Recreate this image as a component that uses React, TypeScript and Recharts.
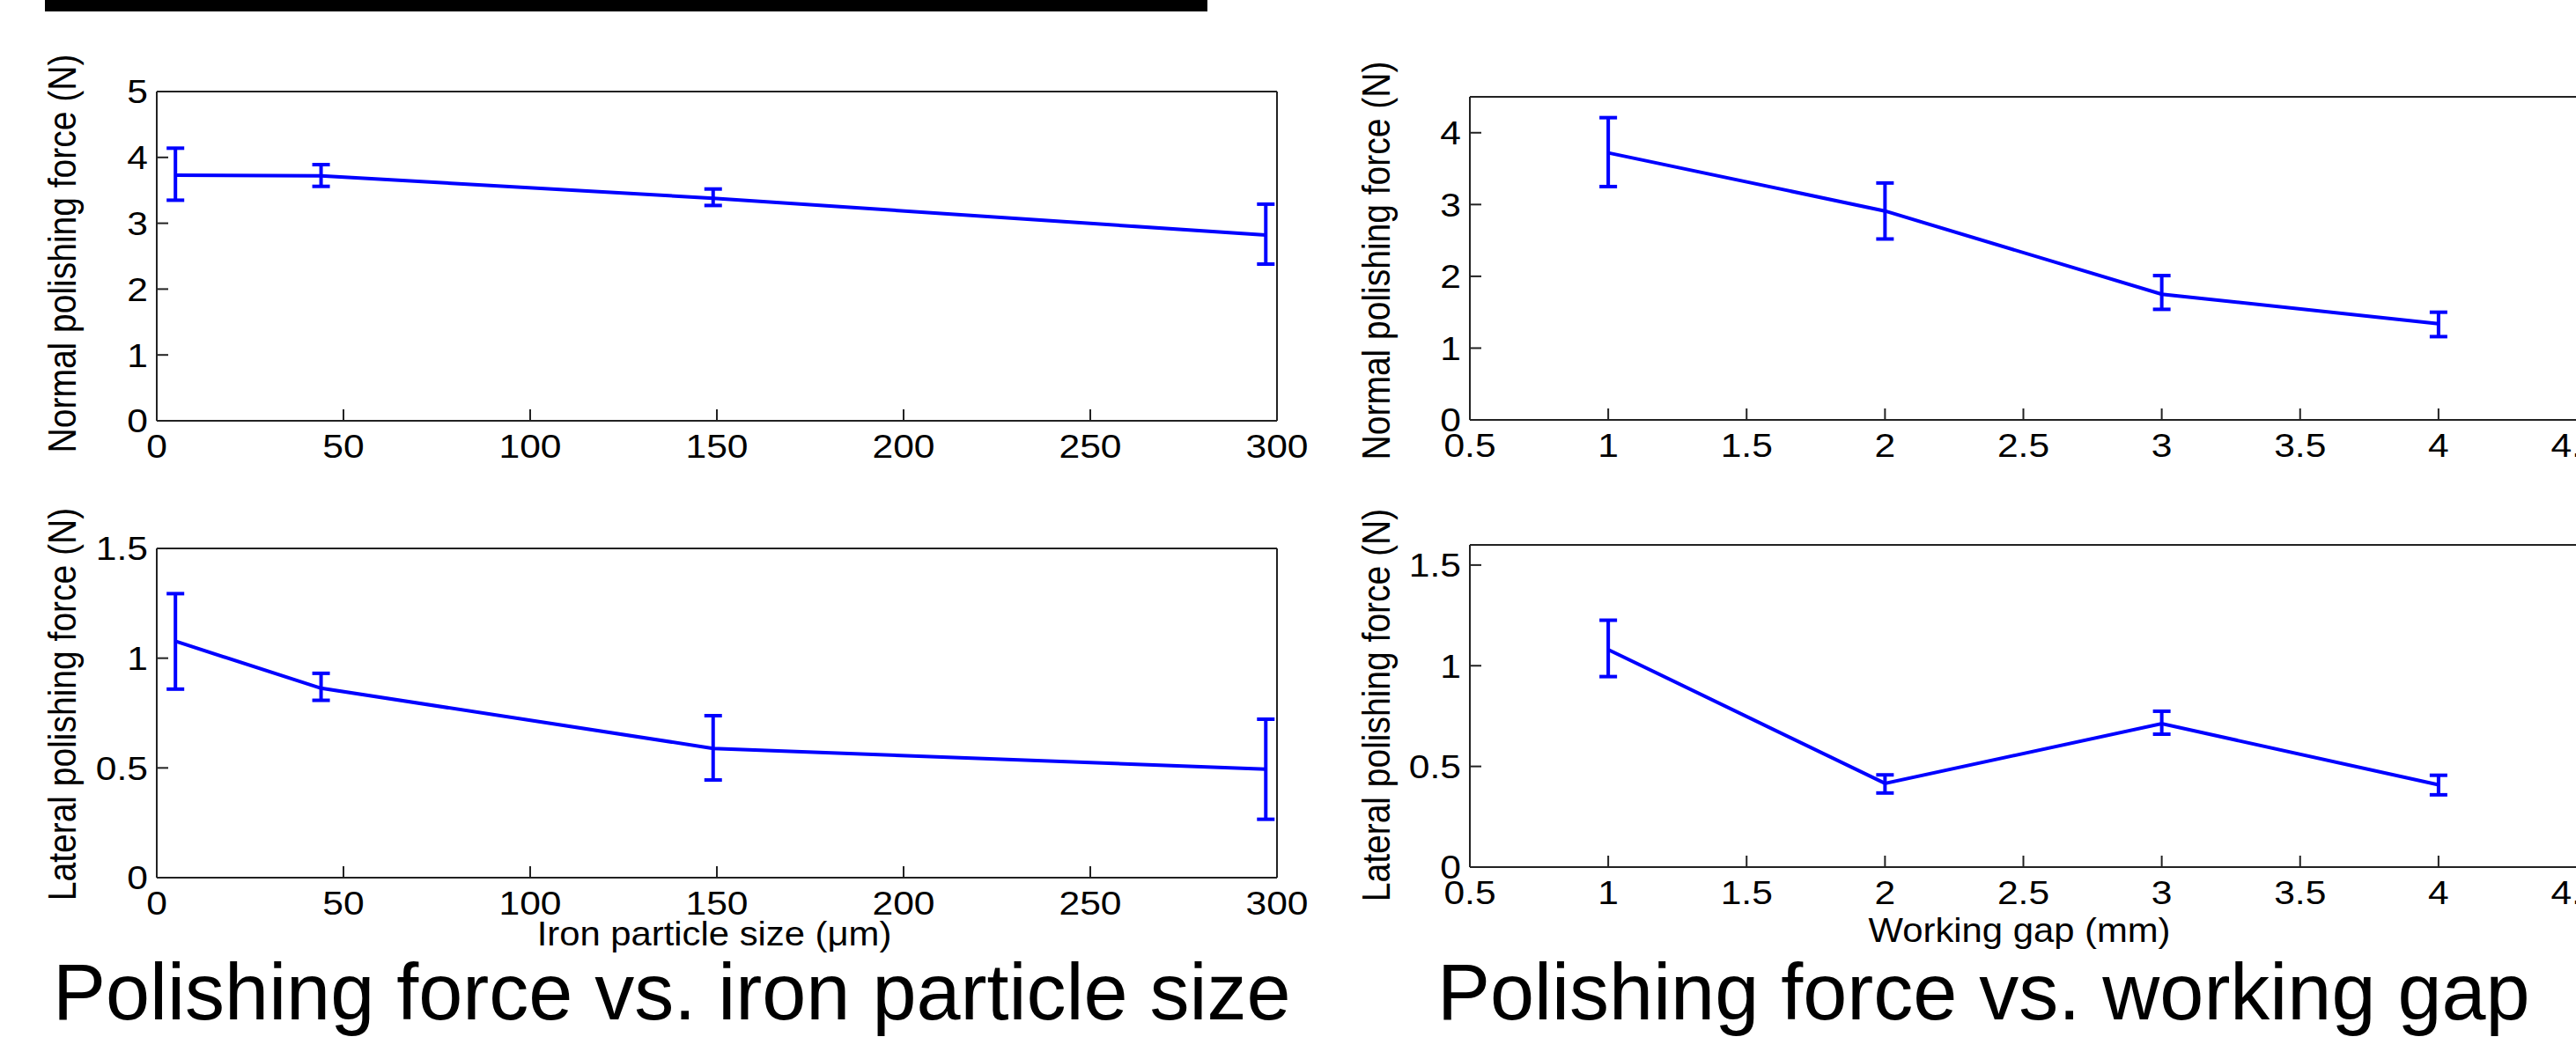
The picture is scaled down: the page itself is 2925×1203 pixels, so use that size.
import React from "react";
import { LineChart, Line, XAxis, YAxis, ErrorBar } from "recharts";

// ── values ──────────────────────────────────────────────────────
const particleSizes = [5, 44, 149, 297]; // μm
const normalBySize = [3.73, 3.72, 3.38, 2.82];
const normalBySizeLow = [3.35, 3.56, 3.27, 2.38];
const normalBySizeHigh = [4.14, 3.89, 3.52, 3.29];
const lateralBySize = [1.077, 0.863, 0.589, 0.494];
const lateralBySizeLow = [0.859, 0.808, 0.445, 0.266];
const lateralBySizeHigh = [1.294, 0.931, 0.738, 0.722];

const workingGaps = [1, 2, 3, 4]; // mm
const normalByGap = [3.72, 2.91, 1.75, 1.34];
const normalByGapLow = [3.25, 2.52, 1.54, 1.16];
const normalByGapHigh = [4.21, 3.3, 2.01, 1.5];
const lateralByGap = [1.08, 0.416, 0.712, 0.409];
const lateralByGapLow = [0.946, 0.368, 0.66, 0.359];
const lateralByGapHigh = [1.226, 0.458, 0.774, 0.456];

const sizeTicks = [0, 50, 100, 150, 200, 250, 300];
const gapTicks = [0.5, 1, 1.5, 2, 2.5, 3, 3.5, 4, 4.5];
const normalSizeTicks = [0, 1, 2, 3, 4, 5];
const normalGapTicks = [0, 1, 2, 3, 4];
const lateralTicks = [0, 0.5, 1, 1.5];

// ── look ────────────────────────────────────────────────────────
const FONT = '"Liberation Sans", Arial, sans-serif';
const BLUE = "#0000FF";
const AXIS = "#222222";
const STRETCH = 1.15; // the source picture is a bit wider than tall
const TICK_FS = 37;
const LABEL_FS = 38;
const TITLE_FS = 90;

function rows(xs: number[], ys: number[], lo: number[], hi: number[]) {
  return xs.map((x, i) => ({ x, y: ys[i], err: [ys[i] - lo[i], hi[i] - ys[i]] }));
}

function BottomTick({ x, payload, base }: any) {
  return (
    <g transform={`translate(${x},${base + 15 + 0.72 * TICK_FS}) scale(${STRETCH},1)`}>
      <text textAnchor="middle" fontSize={TICK_FS} fontFamily={FONT} fill="#000">
        {String(payload.value)}
      </text>
    </g>
  );
}

function LeftTick({ y, payload, base }: any) {
  return (
    <g transform={`translate(${base - 10},${y + 0.36 * TICK_FS}) scale(${STRETCH},1)`}>
      <text textAnchor="end" fontSize={TICK_FS} fontFamily={FONT} fill="#000">
        {String(payload.value)}
      </text>
    </g>
  );
}

const axisStyle = { stroke: AXIS, strokeWidth: 2 };

interface PanelProps {
  box: [number, number, number, number]; // left, top, width, height of chart
  plot: [number, number, number, number]; // left, top, right, bottom of plot frame
  data: { x: number; y: number; err: number[] }[];
  xDomain: [number, number];
  xTicks: number[];
  yDomain: [number, number];
  yTicks: number[];
}

function Panel({ box, plot, data, xDomain, xTicks, yDomain, yTicks }: PanelProps) {
  const [L, T, W, H] = box;
  const [pl, pt, pr, pb] = plot;
  const A = 10;
  const margin = {
    left: pl - L - A,
    right: L + W - pr - A,
    top: pt - T - A,
    bottom: T + H - pb - A,
  };
  return (
    <div style={{ position: "absolute", left: L, top: T }}>
      <LineChart width={W} height={H} data={data} margin={margin}>
        <XAxis
          xAxisId="b"
          type="number"
          dataKey="x"
          domain={xDomain}
          ticks={xTicks}
          interval={0}
          height={A}
          axisLine={axisStyle}
          tickLine={axisStyle}
          tickSize={-13}
          tickMargin={0}
          tick={(p: any) => <BottomTick {...p} base={pb - T} />}
        />
        <XAxis
          xAxisId="t"
          orientation="top"
          type="number"
          dataKey="x"
          domain={xDomain}
          ticks={xTicks}
          interval={0}
          height={A}
          axisLine={axisStyle}
          tickLine={axisStyle}
          tickSize={-13}
          tick={false}
        />
        <YAxis
          yAxisId="l"
          type="number"
          domain={yDomain}
          ticks={yTicks}
          interval={0}
          width={A}
          axisLine={axisStyle}
          tickLine={axisStyle}
          tickSize={-13}
          tickMargin={0}
          tick={(p: any) => <LeftTick {...p} base={pl - L} />}
        />
        <YAxis
          yAxisId="r"
          orientation="right"
          type="number"
          domain={yDomain}
          ticks={yTicks}
          interval={0}
          width={A}
          axisLine={axisStyle}
          tickLine={axisStyle}
          tickSize={-13}
          tick={false}
        />
        <Line
          xAxisId="b"
          yAxisId="l"
          type="linear"
          dataKey="y"
          stroke={BLUE}
          strokeWidth={4}
          dot={false}
          isAnimationActive={false}
        >
          <ErrorBar dataKey="err" direction="y" width={10} strokeWidth={4} stroke={BLUE} isAnimationActive={false} />
        </Line>
      </LineChart>
    </div>
  );
}

function YLabel({ x, y, text }: { x: number; y: number; text: string }) {
  return (
    <g transform={`translate(${x},${y}) scale(1.15,1) rotate(-90)`}>
      <text textAnchor="middle" fontSize={39} fontFamily={FONT} fill="#000">
        {text}
      </text>
    </g>
  );
}

function HText({ x, y, text, size, anchor = "middle", stretch = 1.1 }: any) {
  return (
    <g transform={`translate(${x},${y}) scale(${stretch},1)`}>
      <text textAnchor={anchor} fontSize={size} fontFamily={FONT} fill="#000">
        {text}
      </text>
    </g>
  );
}

export default function App() {
  return (
    <div
      style={{
        position: "absolute",
        left: 0,
        top: 0,
        width: 2925,
        height: 1203,
        overflow: "hidden",
        background: "#fff",
        fontFamily: FONT,
      }}
    >
      <Panel
        box={[0, 0, 1500, 580]}
        plot={[178, 104, 1450, 478]}
        data={rows(particleSizes, normalBySize, normalBySizeLow, normalBySizeHigh)}
        xDomain={[0, 300]}
        xTicks={sizeTicks}
        yDomain={[0, 5]}
        yTicks={normalSizeTicks}
      />
      <Panel
        box={[0, 580, 1500, 500]}
        plot={[178, 623, 1450, 997]}
        data={rows(particleSizes, lateralBySize, lateralBySizeLow, lateralBySizeHigh)}
        xDomain={[0, 300]}
        xTicks={sizeTicks}
        yDomain={[0, 1.5]}
        yTicks={lateralTicks}
      />
      <Panel
        box={[1500, 0, 1500, 580]}
        plot={[1669, 110, 2926, 477]}
        data={rows(workingGaps, normalByGap, normalByGapLow, normalByGapHigh)}
        xDomain={[0.5, 4.5]}
        xTicks={gapTicks}
        yDomain={[0, 4.5]}
        yTicks={normalGapTicks}
      />
      <Panel
        box={[1500, 580, 1500, 500]}
        plot={[1669, 619, 2926, 985]}
        data={rows(workingGaps, lateralByGap, lateralByGapLow, lateralByGapHigh)}
        xDomain={[0.5, 4.5]}
        xTicks={gapTicks}
        yDomain={[0, 1.6]}
        yTicks={lateralTicks}
      />

      <svg
        width={2925}
        height={1203}
        style={{ position: "absolute", left: 0, top: 0, pointerEvents: "none" }}
      >
        {/* underline of the slide heading, cut off at the top */}
        <rect x={51} y={0} width={1320} height={13} fill="#000" />

        <YLabel x={86} y={288} text="Normal polishing force (N)" />
        <YLabel x={86} y={800} text="Lateral polishing force (N)" />
        <YLabel x={1578} y={296} text="Normal polishing force (N)" />
        <YLabel x={1578} y={801} text="Lateral polishing force (N)" />

        <HText x={811} y={1074} size={LABEL_FS} text="Iron particle size (μm)" />
        <HText x={2293} y={1070} size={LABEL_FS} text="Working gap (mm)" />

        <HText x={60} y={1158} size={TITLE_FS} stretch={1} anchor="start" text="Polishing force vs. iron particle size" />
        <HText x={1632} y={1158} size={TITLE_FS} stretch={1} anchor="start" text="Polishing force vs. working gap" />
      </svg>
    </div>
  );
}
